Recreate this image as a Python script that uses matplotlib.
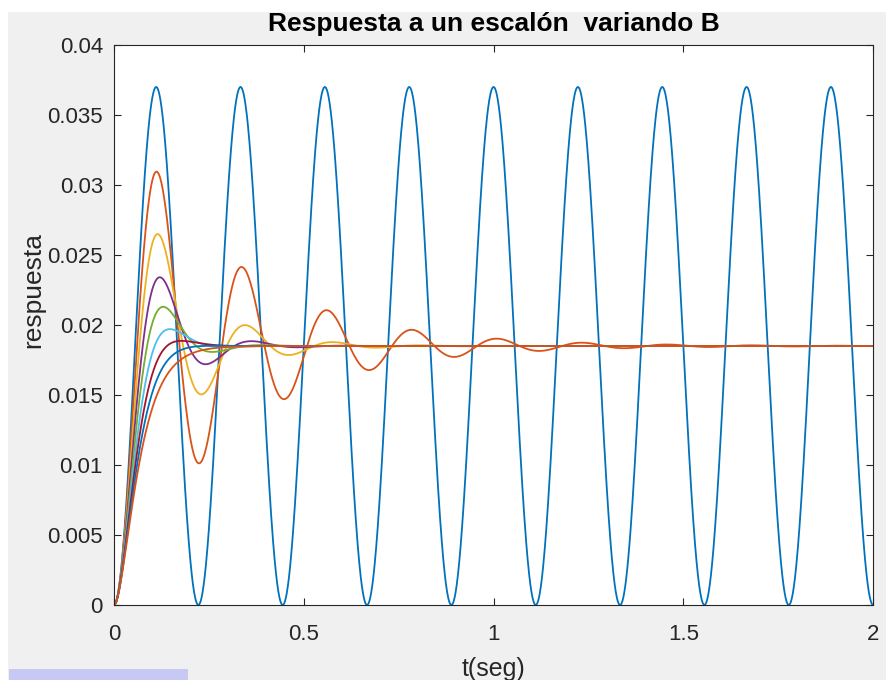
import numpy as np
import matplotlib
matplotlib.use("Agg")
import matplotlib.pyplot as plt
from matplotlib.patches import Rectangle

# ---- data ----
final_value = 0.0185          # steady-state response
wn = 28.27                    # natural frequency (rad/s), period ~0.222 s
zetas = [0.0, 0.125, 0.258, 0.389, 0.515, 0.656, 0.78, 0.91, 1.04]  # damping per B value
t_max = 2.0
xticks = [0, 0.5, 1, 1.5, 2]
xticklabels = ["0", "0.5", "1", "1.5", "2"]
yticks = [0, 0.005, 0.01, 0.015, 0.02, 0.025, 0.03, 0.035, 0.04]
yticklabels = ["0", "0.005", "0.01", "0.015", "0.02", "0.025", "0.03", "0.035", "0.04"]
colors = ["#0072BD", "#D95319", "#EDB120", "#7E2F8E", "#77AC30",
          "#4DBEEE", "#A2142F", "#0072BD", "#D95319"]

def step_response(t, z):
    s1 = -z * wn + wn * np.sqrt(complex(z * z - 1))
    s2 = -z * wn - wn * np.sqrt(complex(z * z - 1))
    y = 1 + (s2 * np.exp(s1 * t) - s1 * np.exp(s2 * t)) / (s1 - s2)
    return final_value * y.real

plt.rcParams['font.family'] = ['Liberation Sans', 'DejaVu Sans']

fig = plt.figure(figsize=(8.86, 6.80), dpi=100, facecolor="white")
fig.patches.append(Rectangle((8 / 886, 0), 1, (680 - 12) / 680, transform=fig.transFigure,
                             facecolor="#f0f0f0", edgecolor="none", zorder=-10))
fig.patches.append(Rectangle((9 / 886, 0), (188 - 9) / 886, 11 / 680, transform=fig.transFigure,
                             facecolor="#c8c8f4", edgecolor="none", zorder=-9))

ax = fig.add_axes([114 / 886, 75 / 680, (873 - 114) / 886, (605 - 45) / 680])
ax.set_facecolor("white")

t = np.linspace(0, t_max, 2001)
for z, c in zip(zetas, colors):
    ax.plot(t, step_response(t, z), color=c, lw=1.3)

ax.set_xlim(0, 2)
ax.set_ylim(0, 0.04)
ax.set_xticks(xticks)
ax.set_xticklabels(xticklabels)
ax.set_yticks(yticks)
ax.set_yticklabels(yticklabels)
ax.tick_params(direction="in", length=5, width=0.8, colors="#262626",
               labelsize=16, top=True, right=True)
ax.tick_params(axis="y", pad=8)
ax.tick_params(axis="x", pad=14)
for sp in ax.spines.values():
    sp.set_color("#262626")
    sp.set_linewidth(0.8)

ax.set_title("Respuesta a un escalón  variando B", fontsize=19, fontweight="bold",
             color="black", pad=10)
ax.set_xlabel("t(seg)", fontsize=18, color="#262626")
ax.set_ylabel("respuesta", fontsize=19, color="#262626")
ax.xaxis.set_label_coords(0.5, -0.092)
ax.yaxis.set_label_coords(-0.091, 0.5625)

fig.savefig("out.png", dpi=100, facecolor=fig.get_facecolor())
